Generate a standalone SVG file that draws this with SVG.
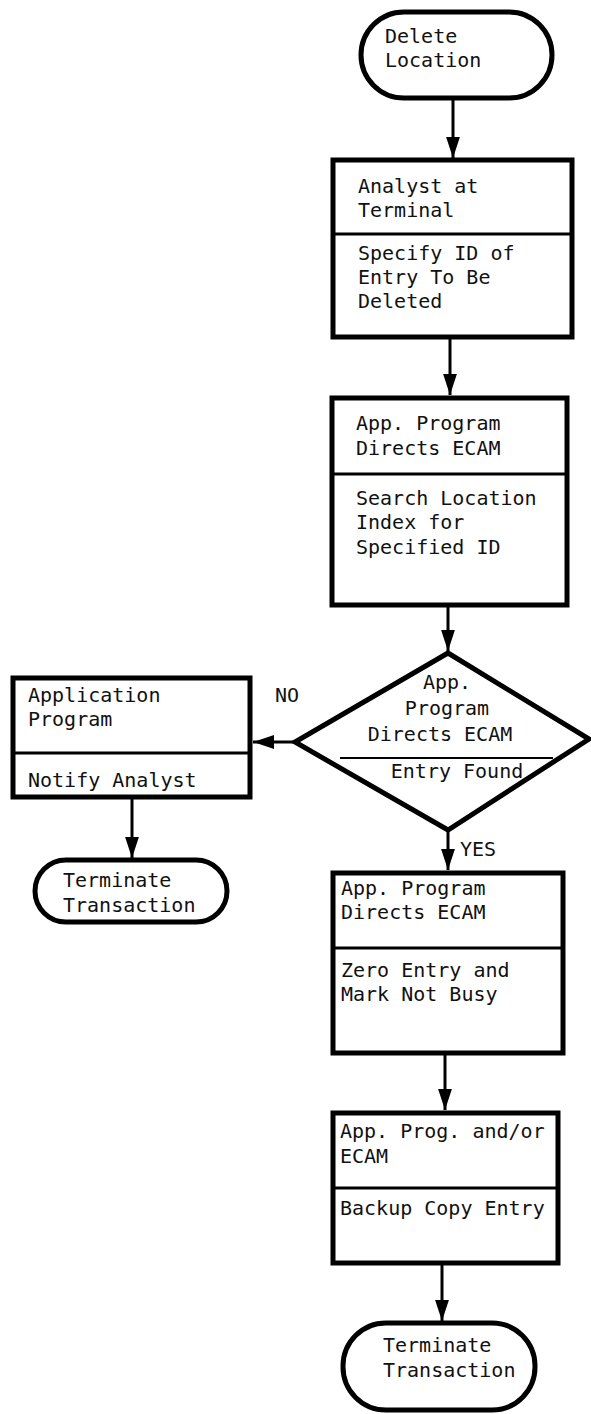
<svg xmlns="http://www.w3.org/2000/svg" width="591" height="1414" viewBox="0 0 591 1414">
<style>
.b{fill:#fff;stroke:#000;stroke-width:5}
.d{stroke:#000;stroke-width:3}
.c{stroke:#000;stroke-width:3;fill:none}
text{font-family:"DejaVu Sans Mono","Liberation Mono",monospace;font-size:20px;fill:#111}
</style>
<defs>
<marker id="ah" viewBox="0 0 10 10" refX="10" refY="5" markerWidth="7" markerHeight="4.6" markerUnits="strokeWidth" orient="auto" preserveAspectRatio="none">
<path d="M0,0 L10,5 L0,10 z" fill="#000"/>
</marker>
</defs>
<rect width="591" height="1414" fill="#fff"/>
<g id="connectors">
<line class="c" x1="453" y1="98" x2="453" y2="158" marker-end="url(#ah)"/>
<line class="c" x1="450" y1="337" x2="450" y2="395" marker-end="url(#ah)"/>
<line class="c" x1="448" y1="605" x2="448" y2="651" marker-end="url(#ah)"/>
<line class="c" x1="295" y1="742" x2="253" y2="742" marker-end="url(#ah)"/>
<line class="c" x1="132" y1="797" x2="132" y2="858" marker-end="url(#ah)"/>
<line class="c" x1="448" y1="830" x2="448" y2="870" marker-end="url(#ah)"/>
<line class="c" x1="445" y1="1053" x2="445" y2="1110" marker-end="url(#ah)"/>
<line class="c" x1="442" y1="1263" x2="442" y2="1321" marker-end="url(#ah)"/>
<text x="275" y="702">NO</text>
<text x="460" y="856">YES</text>
</g>
<g id="start">
<rect class="b" x="361" y="12" width="191" height="86" rx="43"/>
<text x="385" y="43">Delete</text>
<text x="385" y="67">Location</text>
</g>
<g id="analyst">
<rect class="b" x="333" y="160" width="239" height="177"/>
<line class="d" x1="333" y1="234" x2="572" y2="234"/>
<text x="358" y="193">Analyst at</text>
<text x="358" y="217">Terminal</text>
<text x="358" y="260">Specify ID of</text>
<text x="358" y="284">Entry To Be</text>
<text x="358" y="308">Deleted</text>
</g>
<g id="search">
<rect class="b" x="332" y="398" width="235" height="207"/>
<line class="d" x1="332" y1="474" x2="567" y2="474"/>
<text x="356" y="430">App. Program</text>
<text x="356" y="455">Directs ECAM</text>
<text x="356" y="505">Search Location</text>
<text x="356" y="529">Index for</text>
<text x="356" y="554">Specified ID</text>
</g>
<g id="decision">
<polygon class="b" points="448,653 589,739 448,830 295,742"/>
<line class="d" x1="340" y1="758" x2="553" y2="758" style="stroke-width:2"/>
<text x="447" y="689" text-anchor="middle">App.</text>
<text x="447" y="715" text-anchor="middle">Program</text>
<text x="440" y="741" text-anchor="middle">Directs ECAM</text>
<text x="457" y="778" text-anchor="middle">Entry Found</text>
</g>
<g id="notify">
<rect class="b" x="13" y="678" width="237" height="119"/>
<line class="d" x1="13" y1="753" x2="250" y2="753"/>
<text x="28" y="702">Application</text>
<text x="28" y="726">Program</text>
<text x="28" y="787">Notify Analyst</text>
</g>
<g id="terminate1">
<rect class="b" x="35" y="860" width="192" height="62" rx="31"/>
<text x="63" y="887">Terminate</text>
<text x="63" y="912">Transaction</text>
</g>
<g id="zero">
<rect class="b" x="333" y="873" width="230" height="180"/>
<line class="d" x1="333" y1="948" x2="563" y2="948"/>
<text x="341" y="895">App. Program</text>
<text x="341" y="919">Directs ECAM</text>
<text x="341" y="977">Zero Entry and</text>
<text x="341" y="1001">Mark Not Busy</text>
</g>
<g id="backup">
<rect class="b" x="333" y="1113" width="225" height="150"/>
<line class="d" x1="333" y1="1188" x2="558" y2="1188"/>
<text x="340" y="1138">App. Prog. and/or</text>
<text x="340" y="1163">ECAM</text>
<text x="340" y="1215">Backup Copy Entry</text>
</g>
<g id="terminate2">
<rect class="b" x="343" y="1323" width="192" height="87" rx="43"/>
<text x="383" y="1352">Terminate</text>
<text x="383" y="1377">Transaction</text>
</g>
</svg>
